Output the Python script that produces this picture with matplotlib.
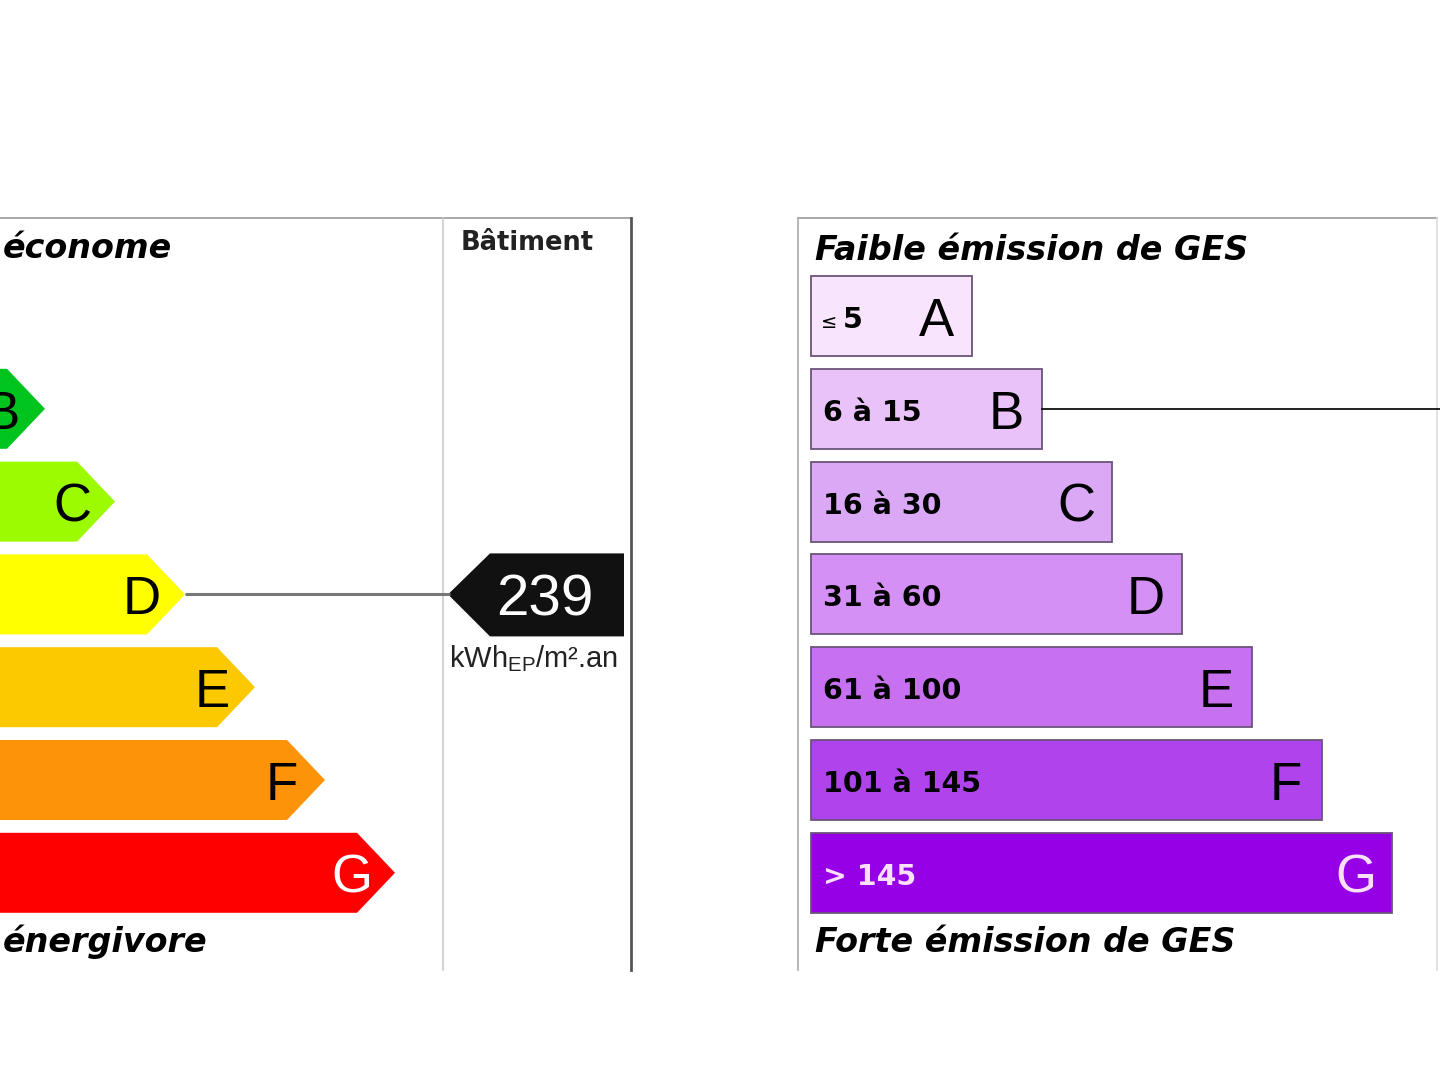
import numpy as np
import matplotlib.pyplot as plt
from matplotlib.patches import Polygon, Rectangle

plt.rcParams['mathtext.fontset'] = 'custom'
plt.rcParams['mathtext.rm'] = 'Liberation Sans'

# energy label (left)
energy_classes = ['A', 'B', 'C', 'D', 'E', 'F', 'G']
energy_colors = ['#00a03c', '#00c41e', '#9cfb00', '#ffff00', '#fcc800', '#fd9308', '#ff0000']
energy_text_colors = ['black', 'black', 'black', 'black', 'black', 'black', 'white']
energy_value = 239
energy_class = 'D'
energy_unit = r'kWh$_{\mathrm{EP}}$/m².an'

# GES label (right)
ges_classes = ['A', 'B', 'C', 'D', 'E', 'F', 'G']
ges_ranges = ['5', '6 à 15', '16 à 30', '31 à 60', '61 à 100', '101 à 145', '> 145']
ges_colors = ['#f8e4fc', '#e9c2f9', '#dba8f6', '#d490f5', '#c770f0', '#b044ec', '#9500e6']
ges_text_colors = ['black', 'black', 'black', 'black', 'black', 'black', '#fbe0fb']
ges_class = 'B'

# layout (pixels)
row_y0 = 316
row_pitch = 92.8
half_h = 40

fig = plt.figure(figsize=(14.4, 10.8), dpi=100)
ax = fig.add_axes([0, 0, 1, 1])
ax.set_xlim(0, 1440)
ax.set_ylim(1080, 0)
ax.axis('off')

# frames
ax.plot([0, 631], [218, 218], color='#999999', lw=1.2)
ax.plot([631, 631], [218, 970], color='#555555', lw=2)
ax.plot([443, 443], [218, 970], color='#cccccc', lw=1.2)
ax.plot([798, 1437], [218, 218], color='#999999', lw=1.2)
ax.plot([798, 798], [218, 970], color='#aaaaaa', lw=1.2)
ax.plot([1437, 1437], [218, 970], color='#dddddd', lw=1.2)

title_font = dict(family='DejaVu Sans', style='italic', weight='bold', fontsize=24)
ax.text(3, 258, 'économe', ha='left', va='baseline', **title_font)
ax.text(3, 952, 'énergivore', ha='left', va='baseline', **title_font)
ax.text(527, 250, 'Bâtiment', ha='center', va='baseline', family='DejaVu Sans',
        weight='bold', fontsize=18.5, color='#222222')

# energy arrows
for i, (cls, col, tcol) in enumerate(zip(energy_classes, energy_colors, energy_text_colors)):
    yc = row_y0 + row_pitch * i
    tip = -25 + 70 * i
    body = tip - 38
    ax.add_patch(Polygon([(-60, yc - half_h), (body, yc - half_h), (tip, yc),
                          (body, yc + half_h), (-60, yc + half_h)],
                         closed=True, facecolor=col, edgecolor='none'))
    if tip - 45 > -20:
        ax.text(tip - 43, yc + 20, cls, ha='center', va='baseline', family='Liberation Sans',
                fontsize=38, color=tcol, clip_on=True)
    if cls == energy_class:
        ax.plot([tip, 450], [yc, yc], color='#777777', lw=2.2, solid_capstyle='butt')
        ax.add_patch(Polygon([(448, yc), (490, yc - 41), (624, yc - 41),
                              (624, yc + 42), (490, yc + 42)],
                             closed=True, facecolor='#111111', edgecolor='none'))
        ax.text(545, yc + 21, str(energy_value), ha='center', va='baseline',
                family='Liberation Sans', fontsize=42, color='white')
        ax.text(534, yc + 73, energy_unit, ha='center', va='baseline',
                family='Liberation Sans', fontsize=21, color='#222222')

# GES bars
ax.text(815, 260, 'Faible émission de GES', ha='left', va='baseline', **title_font)
ax.text(815, 952, 'Forte émission de GES', ha='left', va='baseline', **title_font)
for i, (cls, rng, col, tcol) in enumerate(zip(ges_classes, ges_ranges, ges_colors, ges_text_colors)):
    yc = row_y0 + row_pitch * i
    right = 972 + 70 * i
    ax.add_patch(Rectangle((811, yc - half_h), right - 811, 2 * half_h,
                           facecolor=col, edgecolor='#6a5478', lw=1.3))
    ax.text(right - 36, yc + 20, cls, ha='center', va='baseline', family='Liberation Sans',
            fontsize=38, color=tcol)
    if i == 0:
        ax.text(821, yc + 12, '≤', ha='left', va='baseline', family='DejaVu Sans',
                fontsize=14, color=tcol)
        ax.text(843, yc + 12, rng, ha='left', va='baseline', family='DejaVu Sans',
                weight='bold', fontsize=20.5, color=tcol)
    else:
        ax.text(823, yc + 12, rng, ha='left', va='baseline', family='DejaVu Sans',
                weight='bold', fontsize=20.5, color=tcol)
    if cls == ges_class:
        ax.plot([right, 1440], [yc, yc], color='#111111', lw=1.3)

fig.savefig('out.png', dpi=100, facecolor='white')
